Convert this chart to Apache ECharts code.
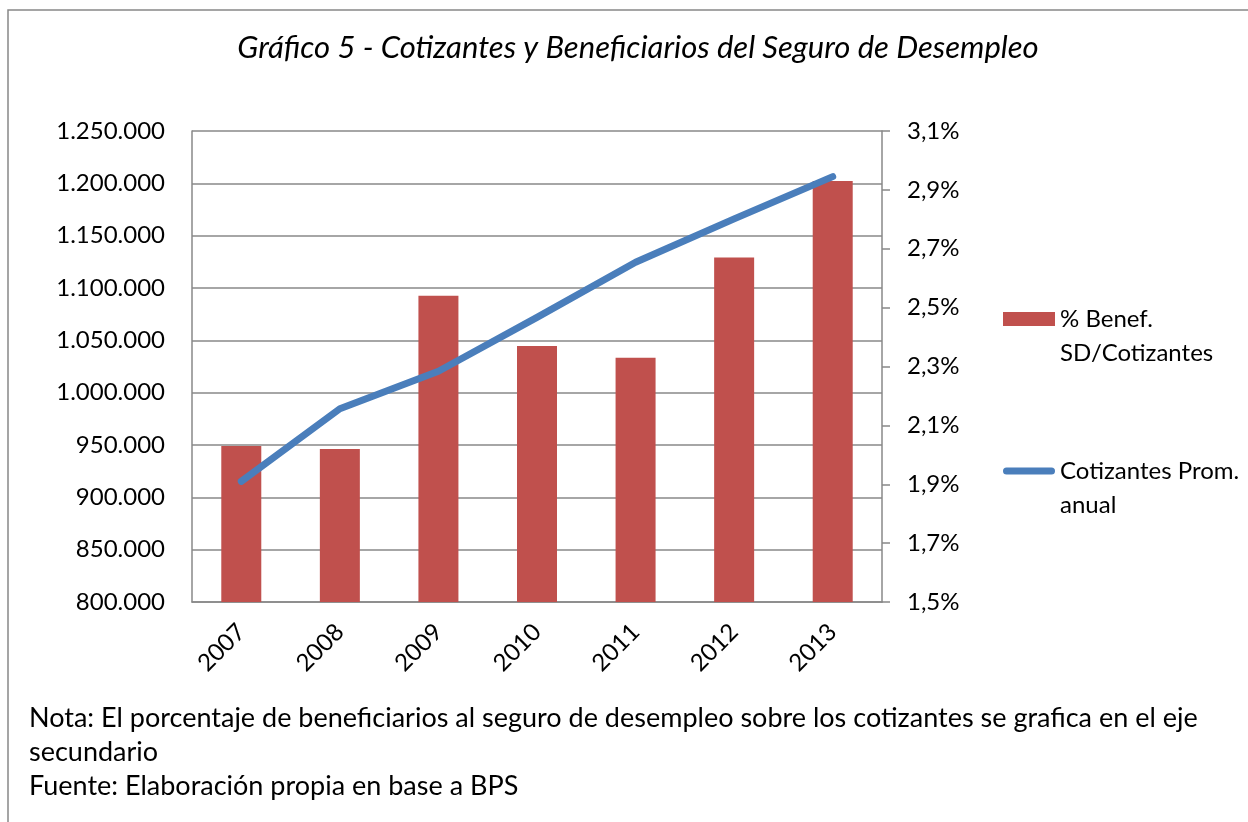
<!DOCTYPE html>
<html>
<head>
<meta charset="utf-8">
<title>Gráfico 5</title>
<script src="https://cdn.jsdelivr.net/npm/echarts@6/dist/echarts.min.js"></script>
<style>
  html, body { margin: 0; padding: 0; background: #fff; }
  #myChart { width: 1248px; height: 822px; }
</style>
</head>
<body>
<div id="myChart"></div>
<script>
// datos
var years = ["2007", "2008", "2009", "2010", "2011", "2012", "2013"];
var cotizantes = [915200, 984600, 1020500, 1072000, 1124600, 1166000, 1206400];
var benefPct = [2.03, 2.02, 2.54, 2.37, 2.33, 2.67, 2.93];
var pctTicks = [1.5, 1.7, 1.9, 2.1, 2.3, 2.5, 2.7, 2.9, 3.1];

var barName = "% Benef. SD/Cotizantes";
var lineName = "Cotizantes Prom. anual";
// linea vacia al principio para que la primera linea quede a la altura del icono
var legendText = {};
legendText[barName] = "\n% Benef.\nSD/Cotizantes";
legendText[lineName] = "\nCotizantes Prom.\nanual";

var font = "Lato";
var gray = "#888888";

function miles(v) {
  return String(v).replace(/\B(?=(\d{3})+(?!\d))/g, ".");
}

let myChart = echarts.init(document.getElementById("myChart"));
myChart.setOption({
  animation: false,
  textStyle: { fontFamily: font, color: "#000" },
  title: [
    {
      text: "Gráfico 5 - Cotizantes y Beneficiarios del Seguro de Desempleo",
      left: 638,
      top: 32,
      padding: 0,
      textAlign: "center",
      textStyle: { fontFamily: font, fontStyle: "italic", fontWeight: "normal", fontSize: 31, color: "#000" }
    },
    {
      text: "Nota: El porcentaje de beneficiarios al seguro de desempleo sobre los cotizantes se grafica en el eje\nsecundario\nFuente: Elaboración propia en base a BPS",
      left: 29,
      top: 701,
      padding: 0,
      textStyle: { fontFamily: font, fontWeight: "normal", fontSize: 27, lineHeight: 34, color: "#000" }
    }
  ],
  graphic: [
    {
      // marco exterior
      type: "rect",
      shape: { x: 8, y: 10, width: 1260, height: 830 },
      style: { fill: "none", stroke: gray, lineWidth: 1.5 },
      silent: true
    }
  ],
  legend: {
    orient: "vertical",
    left: 1003,
    top: 268,
    padding: 0,
    itemWidth: 52,
    itemHeight: 14,
    itemGap: 50,
    itemStyle: { borderWidth: 0 },
    formatter: function(name) {
      return legendText[name];
    },
    textStyle: { fontFamily: font, fontSize: 24, lineHeight: 34, color: "#000" },
    data: [
      { name: barName, icon: "rect" },
      {
        name: lineName,
        icon: "path://M3.5,0 H48.5 A3.5,3.5 0 0 1 48.5,7 H3.5 A3.5,3.5 0 0 1 3.5,0 Z",
        itemStyle: { color: "#4A7EBB" }
      }
    ]
  },
  grid: {
    left: 192,
    right: 366,
    top: 131,
    bottom: 220
  },
  xAxis: {
    type: "category",
    data: years,
    axisTick: { show: false },
    axisLine: { lineStyle: { color: gray, width: 1.5 } },
    axisLabel: { rotate: 45, margin: 26, fontFamily: font, fontSize: 24, color: "#000" }
  },
  yAxis: [
    {
      type: "value",
      min: 800000,
      max: 1250000,
      interval: 50000,
      axisLine: { show: true, lineStyle: { color: gray, width: 1.5 } },
      axisTick: { show: false },
      splitLine: { show: true, lineStyle: { color: gray, width: 1.5 } },
      axisLabel: { margin: 27, fontFamily: font, fontSize: 24, color: "#000", formatter: miles }
    },
    {
      type: "value",
      position: "right",
      min: 1.5,
      max: 3.1,
      axisLine: { show: true, lineStyle: { color: gray, width: 1.5 } },
      axisTick: { show: true, length: 8, customValues: pctTicks, lineStyle: { color: gray, width: 1.5 } },
      splitLine: { show: false },
      axisLabel: {
        margin: 25,
        fontFamily: font,
        fontSize: 24,
        color: "#000",
        customValues: pctTicks,
        formatter: function(v) {
          return v.toFixed(1).replace(".", ",") + "%";
        }
      }
    }
  ],
  series: [
    {
      name: barName,
      type: "bar",
      yAxisIndex: 1,
      barWidth: 40,
      itemStyle: { color: "#C0504D" },
      data: benefPct
    },
    {
      name: lineName,
      type: "line",
      yAxisIndex: 0,
      z: 5,
      symbol: "none",
      color: "#4A7EBB",
      lineStyle: { color: "#4A7EBB", width: 7, cap: "round", join: "round" },
      data: cotizantes
    }
  ]
});
</script>
</body>
</html>
